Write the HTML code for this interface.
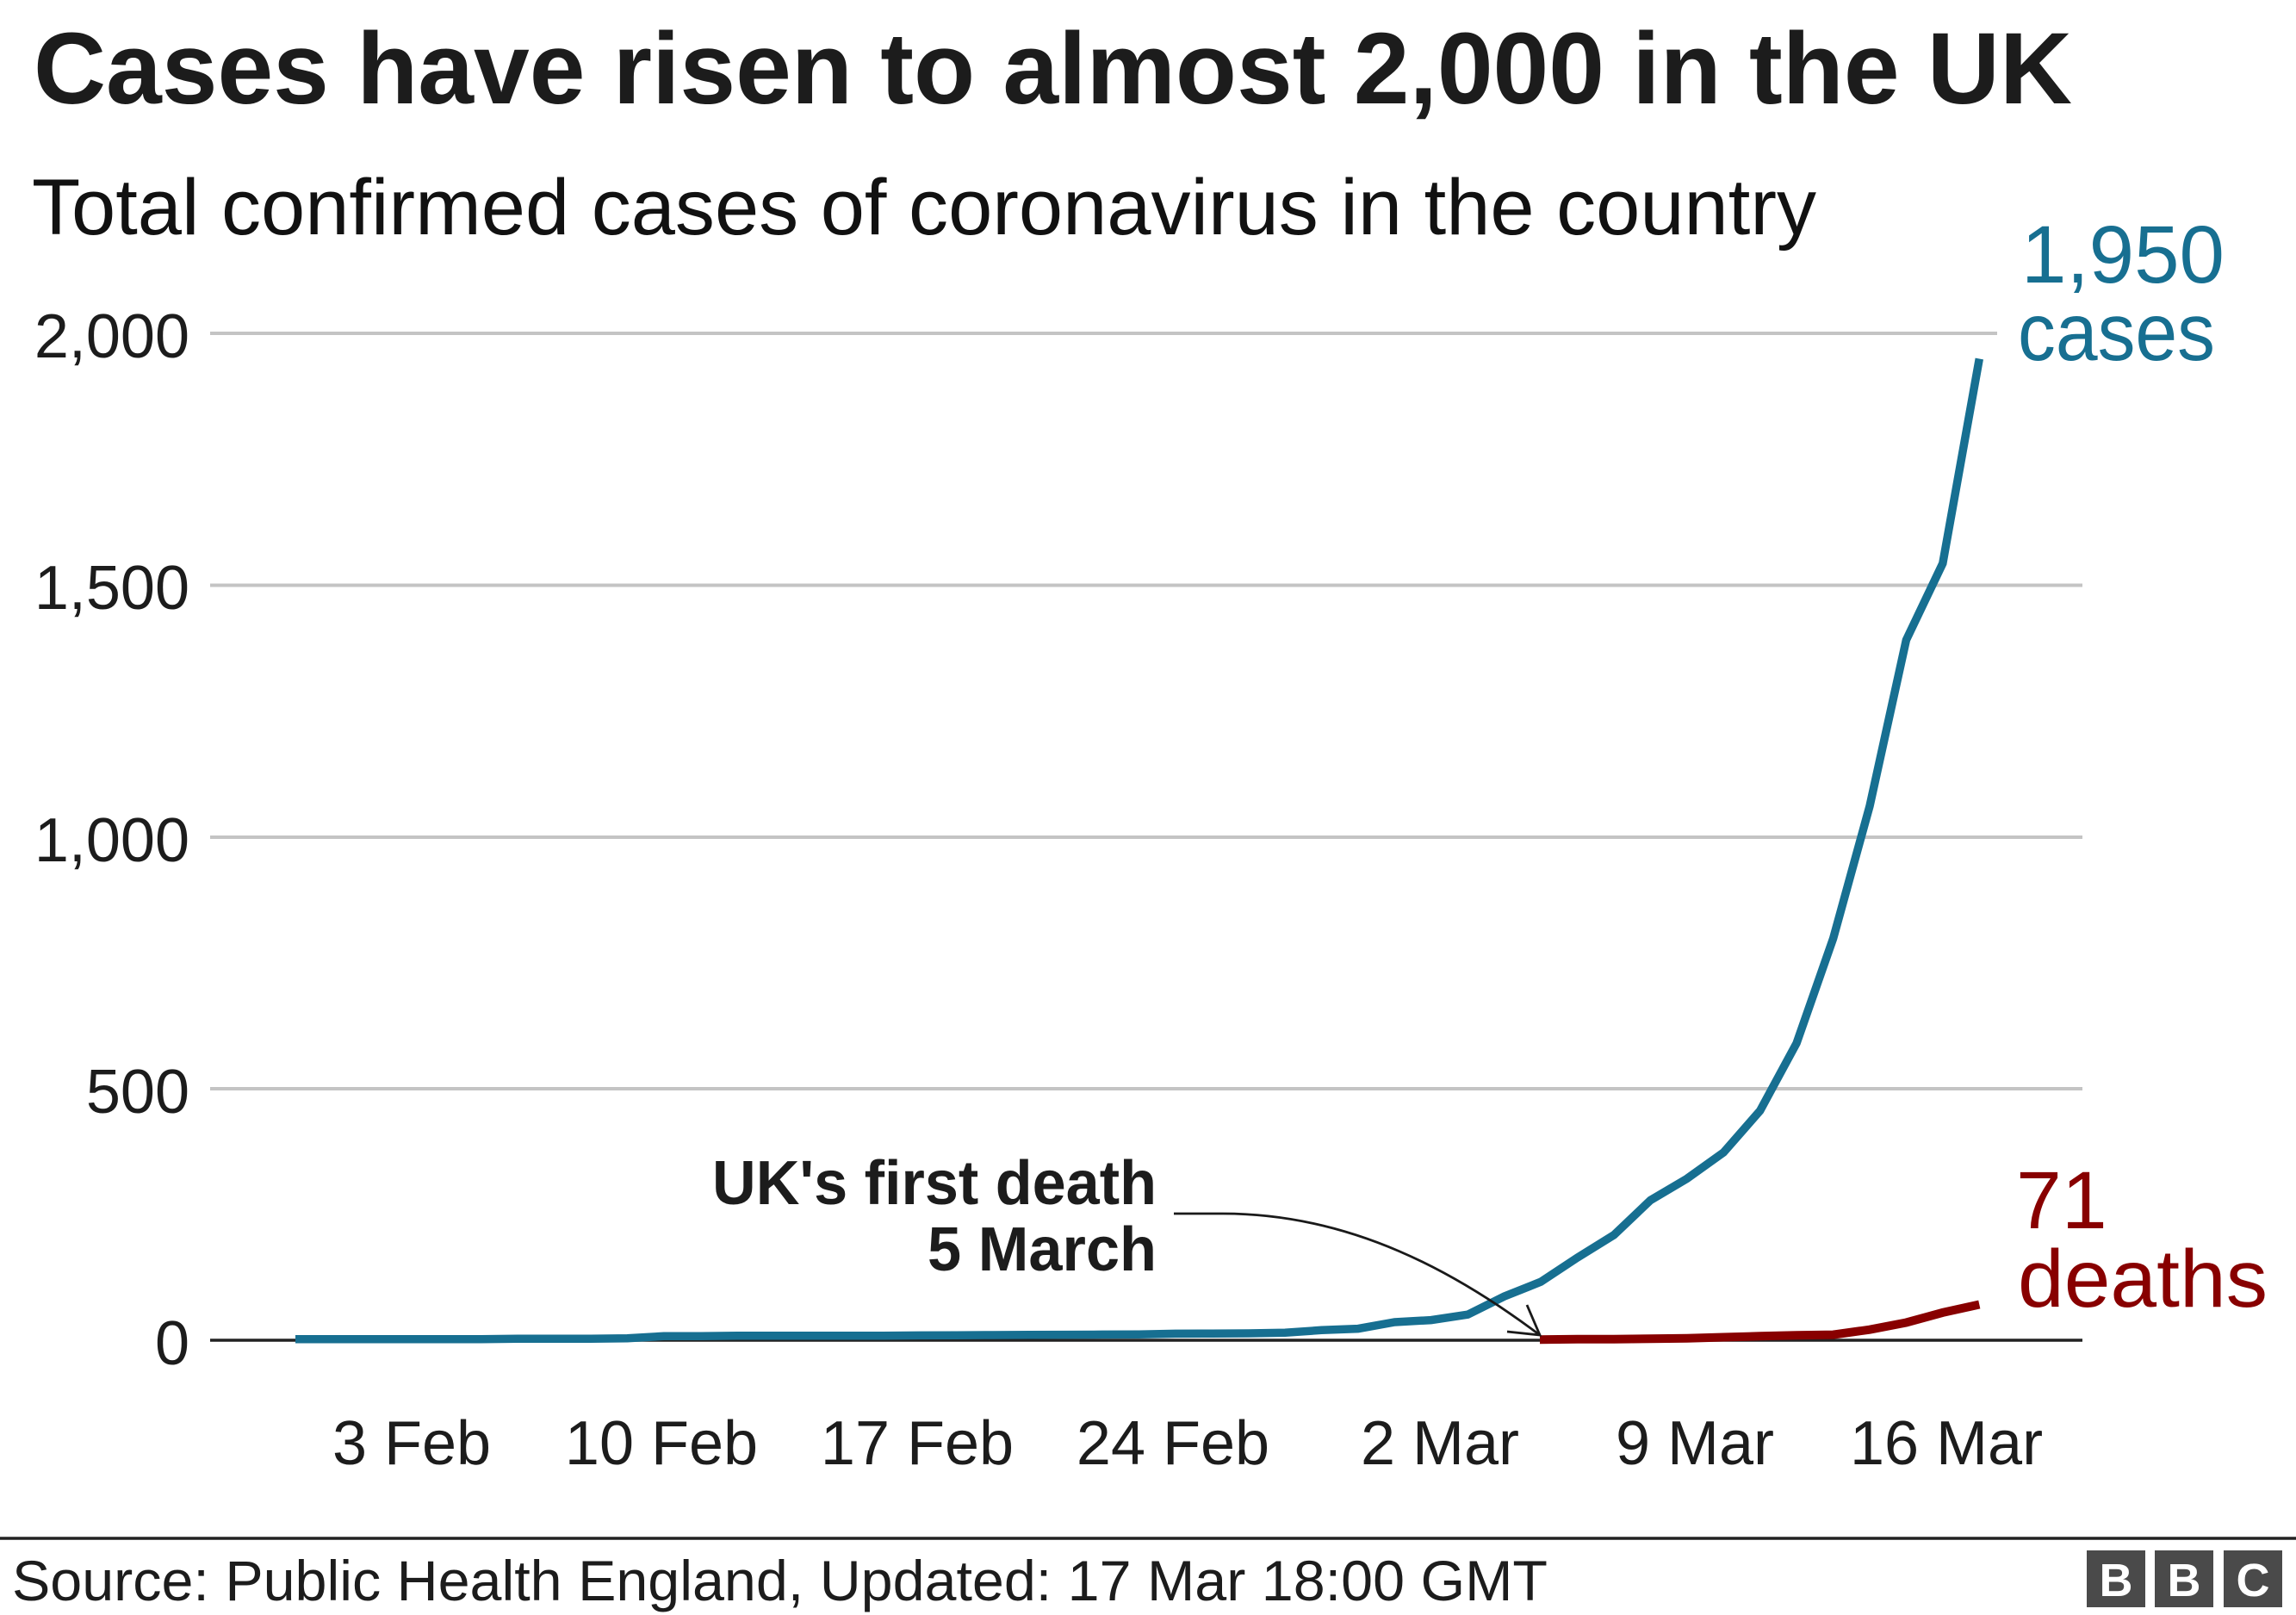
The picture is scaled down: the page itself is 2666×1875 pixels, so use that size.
<!DOCTYPE html>
<html>
<head>
<meta charset="utf-8">
<style>
  html, body { margin: 0; padding: 0; background: #ffffff; }
  svg { display: block; }
  text { font-family: "Liberation Sans", Arial, Helvetica, sans-serif; }
</style>
</head>
<body>
<svg xmlns="http://www.w3.org/2000/svg" width="2666" height="1875" viewBox="0 0 2666 1875">
  <rect x="0" y="0" width="2666" height="1875" fill="#ffffff"/>

  <!-- Title & subtitle -->
  <text x="39" y="120" font-size="118" font-weight="bold" fill="#1c1c1c" textLength="2367" lengthAdjust="spacingAndGlyphs">Cases have risen to almost 2,000 in the UK</text>
  <text x="37" y="272" font-size="92" fill="#111111" textLength="2072" lengthAdjust="spacingAndGlyphs">Total confirmed cases of coronavirus in the country</text>

  <!-- Gridlines -->
  <g stroke="#c4c4c4" stroke-width="4" fill="none">
    <line x1="244" y1="387" x2="2319" y2="387"/>
    <line x1="244" y1="679.5" x2="2418" y2="679.5"/>
    <line x1="244" y1="972" x2="2418" y2="972"/>
    <line x1="244" y1="1264" x2="2418" y2="1264"/>
  </g>
  <!-- Zero line -->
  <line x1="244" y1="1556" x2="2418" y2="1556" stroke="#222222" stroke-width="3.5"/>

  <!-- Y axis labels -->
  <g font-size="72" fill="#1c1c1c" text-anchor="end">
    <text x="220" y="415">2,000</text>
    <text x="220" y="707">1,500</text>
    <text x="220" y="1000">1,000</text>
    <text x="220" y="1292">500</text>
    <text x="220" y="1584">0</text>
  </g>

  <!-- X axis labels -->
  <g font-size="72" fill="#1c1c1c" text-anchor="middle">
    <text x="478" y="1700">3 Feb</text>
    <text x="768" y="1700">10 Feb</text>
    <text x="1065" y="1700">17 Feb</text>
    <text x="1362" y="1700">24 Feb</text>
    <text x="1672" y="1700">2 Mar</text>
    <text x="1968" y="1700">9 Mar</text>
    <text x="2260" y="1700">16 Mar</text>
  </g>

  <!-- Cases line -->
  <polyline fill="none" stroke="#176f91" stroke-width="9.5" stroke-linejoin="miter" stroke-linecap="butt"
    points="343,1554.8 388.9,1554.8 431.4,1554.8 473.8,1554.8 516.2,1554.8 558.7,1554.8 601.1,1554.2 643.5,1554.2 685.9,1554.2 728.4,1553.7 770.8,1551.3 813.2,1551.3 855.7,1550.7 898.1,1550.7 940.5,1550.7 983,1550.7 1025.4,1550.7 1067.8,1550.4 1110.2,1550.2 1152.7,1550 1195.1,1549.8 1237.5,1549.6 1280,1549.4 1322.4,1549.2 1364.8,1548.4 1407.3,1548.2 1449.7,1548 1492.1,1547.2 1534.5,1544.3 1577,1542.6 1619.4,1535 1661.8,1532.6 1704.3,1526.2 1746.7,1505.1 1789.1,1488.2 1831.6,1460.1 1874,1433.8 1916.4,1393.5 1958.8,1368.4 2001.3,1338 2043.7,1289.5 2086.1,1211.1 2128.6,1089.6 2171,935.8 2213.4,743 2255.8,654.1 2298.3,416.5"/>

  <!-- Deaths line -->
  <polyline fill="none" stroke="#880000" stroke-width="10" stroke-linejoin="miter" stroke-linecap="butt"
    points="1788,1555.2 1831.6,1554.8 1874,1554.8 1916.4,1554.2 1958.8,1553.7 2001.3,1552.5 2043.7,1551.3 2086.1,1550.2 2128.6,1549.6 2171,1543.7 2213.4,1535.5 2255.8,1523.9 2298.3,1514.5"/>

  <!-- Annotation arrow -->
  <path d="M1363,1409 L1420,1409 C1570,1409 1692,1478 1788,1550" fill="none" stroke="#1a1a1a" stroke-width="2.8"/>
  <polyline points="1750,1546 1788,1550 1773,1515" fill="none" stroke="#1a1a1a" stroke-width="2.8"/>

  <!-- Annotation text -->
  <g font-size="72" font-weight="bold" fill="#1c1c1c" text-anchor="end">
    <text x="1343" y="1398" textLength="516" lengthAdjust="spacingAndGlyphs">UK's first death</text>
    <text x="1343" y="1475" textLength="266" lengthAdjust="spacingAndGlyphs">5 March</text>
  </g>

  <!-- Series labels -->
  <g font-size="95" fill="#176f91">
    <text x="2347" y="328" textLength="236" lengthAdjust="spacingAndGlyphs">1,950</text>
    <text x="2343" y="418" textLength="229" lengthAdjust="spacingAndGlyphs">cases</text>
  </g>
  <g font-size="95" fill="#880000">
    <text x="2341" y="1426">71</text>
    <text x="2343" y="1517" textLength="290" lengthAdjust="spacingAndGlyphs">deaths</text>
  </g>

  <!-- Footer -->
  <line x1="0" y1="1786" x2="2666" y2="1786" stroke="#222222" stroke-width="3.5"/>
  <text x="14" y="1858" font-size="66" fill="#1c1c1c" textLength="1783" lengthAdjust="spacingAndGlyphs">Source: Public Health England, Updated: 17 Mar 18:00 GMT</text>

  <!-- BBC logo -->
  <g>
    <rect x="2423" y="1800" width="68" height="66" fill="#4a4a4a"/>
    <rect x="2502" y="1800" width="68" height="66" fill="#4a4a4a"/>
    <rect x="2582" y="1800" width="68" height="66" fill="#4a4a4a"/>
    <g font-size="54" font-weight="bold" fill="#ffffff" text-anchor="middle">
      <text x="2457" y="1853">B</text>
      <text x="2536" y="1853">B</text>
      <text x="2616" y="1853">C</text>
    </g>
  </g>
</svg>
</body>
</html>
